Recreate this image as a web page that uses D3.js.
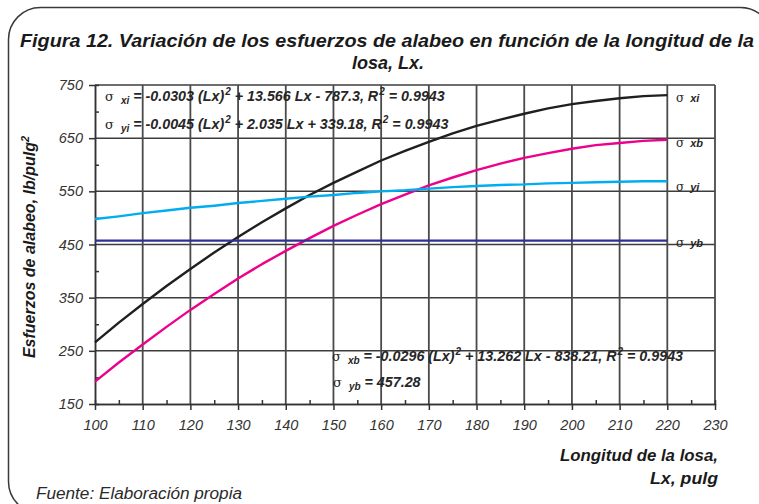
<!DOCTYPE html>
<html>
<head>
<meta charset="utf-8">
<script src="https://cdn.jsdelivr.net/npm/d3@7/dist/d3.min.js"></script>
<style>
  html, body { margin: 0; padding: 0; background: #fff; }
  svg { display: block; font-family: "Liberation Sans", Arial, sans-serif; }
</style>
</head>
<body>
<svg id="chart" width="759" height="504"></svg>
<script>
// Longitud de la losa (pulg)
const longitudes = [100,105,110,115,120,125,130,135,140,145,150,155,160,165,170,175,180,185,190,195,200,205,210,215,220];
// Esfuerzo de alabeo interior en x (lb/pulg²)
const sigmaXi = [266,303,338,372,404,435,464,492,518,543,566,587,608,626,643,659,673,685,696,706,714,720,725,729,731];
// Esfuerzo de alabeo de borde en x
const sigmaXb = [192,228,262,295,327,357,386,413,438,462,485,506,526,544,561,576,590,602,613,622,630,637,641,645,647];
// Esfuerzo de alabeo interior en y
const sigmaYi = [498,503,509,514,519,523,528,532,536,540,543,547,550,552,555,558,560,562,563,565,566,567,568,569,569];
// Esfuerzo de alabeo de borde en y (constante)
const sigmaYbValor = 457.28;
const sigmaYb = longitudes.map(() => sigmaYbValor);

const xTicks = [100,110,120,130,140,150,160,170,180,190,200,210,220,230];
const yTicks = [150,250,350,450,550,650,750];

const series = [
  { name: "xi", values: sigmaXi, color: "#1f1f1f", dy: 7 },
  { name: "xb", values: sigmaXb, color: "#ec008c", dy: 7 },
  { name: "yi", values: sigmaYi, color: "#00aeef", dy: 10 },
  { name: "yb", values: sigmaYb, color: "#2e3192", dy: 6 }
];

const svg = d3.select("#chart");
const ink = "#262626";

// Marco redondeado de la figura
svg.append("rect")
  .attr("x", 8.5).attr("y", 7.5)
  .attr("width", 764).attr("height", 506)
  .attr("rx", 32).attr("ry", 32)
  .attr("fill", "none").attr("stroke", "#3a3a3a").attr("stroke-width", 1.5);

// Título
const title = svg.append("text")
  .attr("text-anchor", "middle")
  .attr("font-weight", "bold").attr("font-style", "italic")
  .attr("font-size", 19).attr("fill", "#1a1a1a");
title.append("tspan").attr("x", 387).attr("y", 47)
  .attr("textLength", 734).attr("lengthAdjust", "spacingAndGlyphs")
  .text("Figura 12. Variación de los esfuerzos de alabeo en función de la longitud de la");
title.append("tspan").attr("x", 388).attr("y", 69)
  .attr("textLength", 72).attr("lengthAdjust", "spacingAndGlyphs")
  .text("losa, Lx.");

// Escalas
const x = d3.scaleLinear().domain([100, 230]).range([95, 715]);
const y = d3.scaleLinear().domain([150, 750]).range([404, 85]);

// Cuadrícula
const grid = svg.append("g").attr("stroke", "#3d3d3d").attr("stroke-width", 1.5);
grid.selectAll("line.h").data(yTicks.filter(v => v > 150)).join("line")
  .attr("x1", x(100)).attr("x2", x(230))
  .attr("y1", d => y(d)).attr("y2", d => y(d));
grid.selectAll("line.v").data(xTicks.filter(v => v > 100)).join("line")
  .attr("x1", d => x(d)).attr("x2", d => x(d))
  .attr("y1", y(150)).attr("y2", y(750))
  .attr("stroke", "#4a4a4a").attr("stroke-width", 1.8);

// Eje Y
const yAxis = svg.append("g").attr("transform", `translate(${x(100)},0)`)
  .call(d3.axisLeft(y).tickValues(yTicks).tickSizeInner(6).tickSizeOuter(0).tickPadding(6));
const yMinor = svg.append("g").attr("transform", `translate(${x(100)},0)`)
  .call(d3.axisLeft(y).tickValues([200,300,400,500,600,700]).tickSize(-4).tickFormat(""));

// Eje X
const xAxis = svg.append("g").attr("transform", `translate(0,${y(150)})`)
  .call(d3.axisBottom(x).tickValues(xTicks).tickSizeInner(6).tickSizeOuter(0).tickPadding(10));
const xMinor = svg.append("g").attr("transform", `translate(0,${y(150)})`)
  .call(d3.axisBottom(x).tickValues(xTicks.slice(0, -1).map(v => v + 5)).tickSize(-4).tickFormat(""));

[yAxis, yMinor, xAxis, xMinor].forEach(g => {
  g.select(".domain").attr("stroke", "#333").attr("stroke-width", 1.5);
  g.selectAll(".tick line").attr("stroke", "#333").attr("stroke-width", 1.5);
  g.selectAll(".tick text")
    .attr("font-family", "Liberation Sans, Arial, sans-serif")
    .attr("font-size", 14.5).attr("font-style", "italic").attr("fill", "#333");
});

// Curvas
const line = d3.line().x((d, i) => x(longitudes[i])).y(d => y(d));
svg.append("g").selectAll("path").data(series).join("path")
  .attr("d", d => line(d.values))
  .attr("fill", "none")
  .attr("stroke", d => d.color)
  .attr("stroke-width", 2.4)
  .attr("stroke-linejoin", "round");

// Etiquetas de las curvas
const labels = svg.append("g").selectAll("text").data(series).join("text")
  .attr("x", 676)
  .attr("y", d => y(d.values[d.values.length - 1]) + d.dy)
  .attr("fill", ink);
labels.append("tspan").attr("font-family", "DejaVu Serif, serif").attr("font-size", 12).text("σ");
labels.append("tspan").attr("dx", 6).attr("font-size", 11)
  .attr("font-weight", "bold").attr("font-style", "italic")
  .text(d => d.name);

// Ecuaciones de ajuste
function equation(x0, y0, sub, parts) {
  const t = svg.append("text").attr("x", x0).attr("y", y0).attr("fill", ink);
  t.append("tspan").attr("font-family", "DejaVu Serif, serif").attr("font-size", 13).text("σ");
  t.append("tspan").attr("dx", 7).attr("dy", 3).attr("font-size", 10)
    .attr("font-weight", "bold").attr("font-style", "italic").text(sub);
  let first = true;
  parts.forEach(p => {
    const s = t.append("tspan")
      .attr("font-size", p.sup ? 10 : 14.3)
      .attr("font-weight", "bold").attr("font-style", "italic");
    if (first) { s.attr("dy", -3); first = false; }
    if (p.sup) s.attr("dy", -6).attr("dx", 1);
    if (p.after) s.attr("dy", 6);
    s.text(p.t);
  });
  return t;
}

equation(105, 101, "xi", [
  { t: " = -0.0303 (Lx)" }, { t: "2", sup: true },
  { t: "  + 13.566 Lx - 787.3, R", after: true }, { t: "2", sup: true },
  { t: "  = 0.9943", after: true }
]);
equation(105, 129, "yi", [
  { t: " = -0.0045 (Lx)" }, { t: "2", sup: true },
  { t: "  + 2.035 Lx + 339.18, R", after: true }, { t: "2", sup: true },
  { t: "  = 0.9943", after: true }
]);
equation(332, 361, "xb", [
  { t: " = -0.0296 (Lx)" }, { t: "2", sup: true },
  { t: "  + 13.262 Lx - 838.21, R", after: true }, { t: "2", sup: true },
  { t: "  = 0.9943", after: true }
]);
equation(333, 387, "yb", [
  { t: " = " + sigmaYbValor.toFixed(2) }
]);

// Títulos de ejes
svg.append("text")
  .attr("transform", "translate(35,247) rotate(-90)")
  .attr("text-anchor", "middle")
  .attr("font-size", 16).attr("font-weight", "bold").attr("font-style", "italic")
  .attr("fill", "#1a1a1a")
  .text("Esfuerzos de alabeo, lb/pulg")
  .append("tspan").attr("dy", -6).attr("font-size", 11).text("2");

const xt = svg.append("text")
  .attr("text-anchor", "end")
  .attr("font-size", 16.5).attr("font-weight", "bold").attr("font-style", "italic")
  .attr("fill", "#1a1a1a");
xt.append("tspan").attr("x", 718).attr("y", 461)
  .attr("textLength", 158).attr("lengthAdjust", "spacingAndGlyphs")
  .text("Longitud de la losa,");
xt.append("tspan").attr("x", 718).attr("y", 484)
  .attr("textLength", 68).attr("lengthAdjust", "spacingAndGlyphs")
  .text("Lx, pulg");

// Fuente
svg.append("text")
  .attr("x", 36).attr("y", 499)
  .attr("font-size", 16).attr("font-style", "italic").attr("fill", "#2a2a2a")
  .attr("textLength", 206).attr("lengthAdjust", "spacingAndGlyphs")
  .text("Fuente: Elaboración propia");
</script>
</body>
</html>
